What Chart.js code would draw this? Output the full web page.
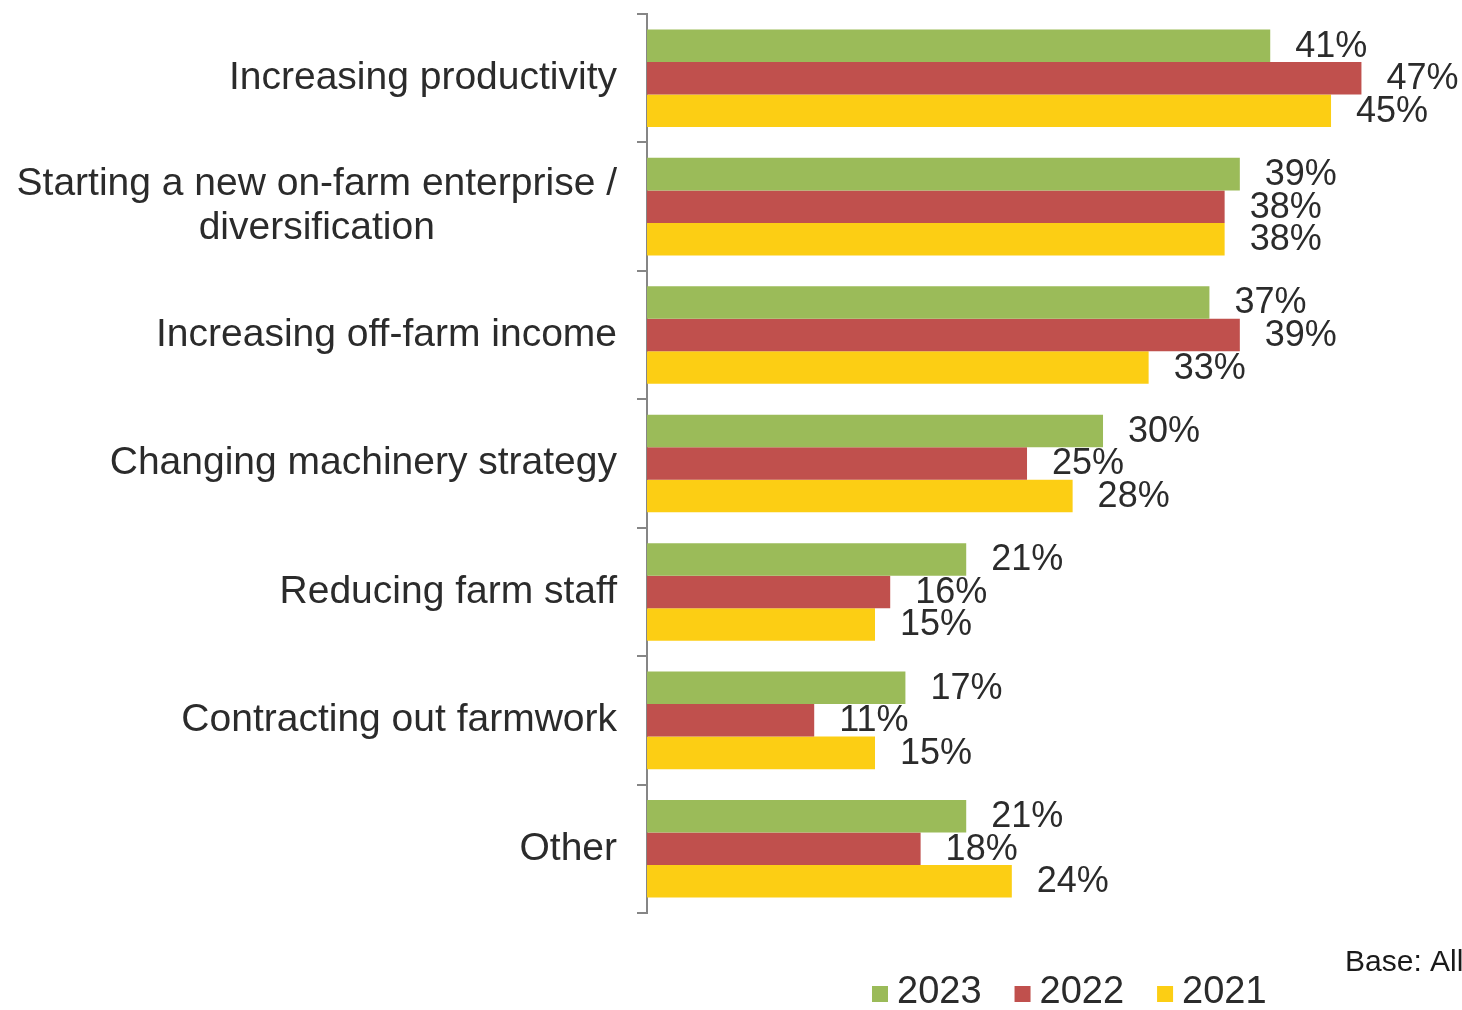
<!DOCTYPE html>
<html>
<head>
<meta charset="utf-8">
<script src="https://cdn.jsdelivr.net/npm/chart.js@4.4.1/dist/chart.umd.min.js"></script>
<style>
  html, body { margin: 0; padding: 0; background: #fff; }
  #wrap { width: 1462px; height: 1010px; position: relative; }
</style>
</head>
<body>
<div id="wrap"><canvas id="farmChart"></canvas></div>
<script>
const categories = [
  'Increasing productivity',
  ['Starting a new on-farm enterprise /', 'diversification'],
  'Increasing off-farm income',
  'Changing machinery strategy',
  'Reducing farm staff',
  'Contracting out farmwork',
  'Other'
];
const seriesNames = ['2023', '2022', '2021'];
const values2023 = [41, 39, 37, 30, 21, 17, 21];
const values2022 = [47, 38, 39, 25, 16, 11, 18];
const values2021 = [45, 38, 33, 28, 15, 15, 24];
const seriesColors = ['#9bbb59', '#c0504d', '#fcce14'];
const baseNote = 'Base: All';

const FONT = '"Liberation Sans", Arial, sans-serif';
const TEXT = '#2b2b2b';

// category names, block right-aligned to the axis, lines centred within the block
const categoryLabels = {
  id: 'categoryLabels',
  afterDraw(chart) {
    const ctx = chart.ctx;
    const y = chart.scales.y;
    const right = y.right - 10 - 20;
    ctx.save();
    ctx.font = '39px ' + FONT;
    ctx.fillStyle = TEXT;
    ctx.textAlign = 'center';
    ctx.textBaseline = 'middle';
    categories.forEach((label, i) => {
      const lines = Array.isArray(label) ? label : [label];
      const w = Math.max(...lines.map(l => ctx.measureText(l).width));
      const cy = y.getPixelForValue(i);
      lines.forEach((line, k) => {
        ctx.fillText(line, right - w / 2, cy + (k - (lines.length - 1) / 2) * 44);
      });
    });
    ctx.restore();
  }
};

// percentage next to each bar end
const valueLabels = {
  id: 'valueLabels',
  afterDatasetsDraw(chart) {
    const ctx = chart.ctx;
    ctx.save();
    ctx.font = '36px ' + FONT;
    ctx.fillStyle = TEXT;
    ctx.textAlign = 'left';
    ctx.textBaseline = 'middle';
    chart.data.datasets.forEach((ds, di) => {
      chart.getDatasetMeta(di).data.forEach((bar, i) => {
        ctx.fillText(ds.data[i] + '%', bar.x + 25, bar.y + 1);
      });
    });
    ctx.restore();
  }
};

// legend row and base note under the plot
const footer = {
  id: 'footer',
  afterDraw(chart) {
    const ctx = chart.ctx;
    ctx.save();
    ctx.textBaseline = 'middle';
    ctx.textAlign = 'left';
    ctx.font = '38px ' + FONT;
    let x = 872;
    const cy = 993;
    chart.data.datasets.forEach((ds, i) => {
      ctx.fillStyle = ds.backgroundColor;
      ctx.fillRect(x, cy - 7, 16, 16);
      ctx.fillStyle = TEXT;
      ctx.fillText(ds.label, x + 25, cy);
      x += 25 + ctx.measureText(ds.label).width + 33;
    });
    ctx.font = '30px ' + FONT;
    ctx.fillStyle = '#1a1a1a';
    ctx.fillText(baseNote, 1345, 963);
    ctx.restore();
  }
};

new Chart(document.getElementById('farmChart'), {
  type: 'bar',
  data: {
    labels: categories,
    datasets: [
      { label: seriesNames[0], data: values2023, backgroundColor: seriesColors[0] },
      { label: seriesNames[1], data: values2022, backgroundColor: seriesColors[1] },
      { label: seriesNames[2], data: values2021, backgroundColor: seriesColors[2] }
    ]
  },
  options: {
    indexAxis: 'y',
    responsive: true,
    maintainAspectRatio: false,
    animation: false,
    layout: { padding: { top: 14, bottom: 97, right: 58, left: 0 } },
    datasets: { bar: { categoryPercentage: 0.76, barPercentage: 1, borderWidth: 0 } },
    plugins: {
      legend: { display: false },
      tooltip: { enabled: false }
    },
    scales: {
      x: { display: false, min: 0, max: 49.8 },
      y: {
        grid: { drawOnChartArea: false, tickLength: 10, color: '#868686', lineWidth: 2, offset: true },
        border: { color: '#868686', width: 2 },
        ticks: { display: false },
        afterFit(scale) { scale.width = 647; }
      }
    }
  },
  plugins: [categoryLabels, valueLabels, footer]
});
</script>
</body>
</html>
